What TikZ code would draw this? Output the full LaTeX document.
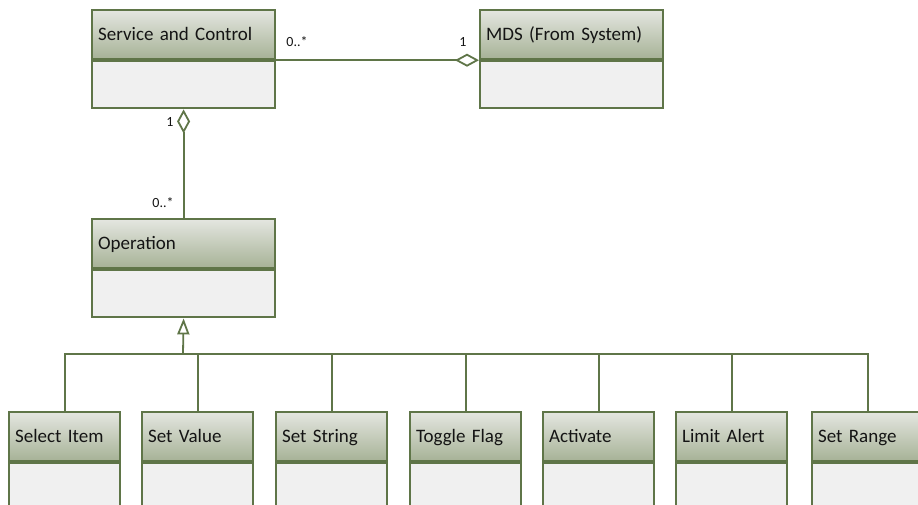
\documentclass[tikz,border=0pt]{standalone}
\usepackage{fontspec}
\setmainfont{Carlito}
\usetikzlibrary{arrows.meta,positioning}
\definecolor{umlgreen}{RGB}{95,117,72}
\definecolor{headtop}{RGB}{228,230,224}
\definecolor{headbottom}{RGB}{166,178,150}
\definecolor{bodygray}{RGB}{240,240,240}
\definecolor{textdark}{RGB}{20,20,20}

\begin{document}
\begin{tikzpicture}[x=1pt, y=-1pt,
  classhead/.style={draw=umlgreen, line width=2.2pt, top color=headtop, bottom color=headbottom,
    anchor=north west, minimum height=49pt, inner xsep=6pt, text width=#1, align=left,
    text height=14pt, text depth=3pt, font=\fontsize{19}{22}\selectfont, text=textdark},
  classbody/.style={draw=umlgreen, line width=2.2pt, fill=bodygray, minimum width=#1, minimum height=47pt},
  link/.style={draw=umlgreen, line width=1.8pt},
  mult/.style={font=\fontsize{14}{16}\selectfont, text=textdark, inner sep=0pt}
]
  \useasboundingbox (0,0) rectangle (918,504);
  \clip (0,0) rectangle (918,504);

  % upper classes
  \node[classhead=171pt] (svc) at (91,9) {Service and Control};
  \node[classbody=183pt, below=0pt of svc] (svc-b) {};
  \node[classhead=171pt] (mds) at (479,9) {MDS (From System)};
  \node[classbody=183pt, below=0pt of mds] (mds-b) {};
  \node[classhead=171pt] (op) at (91,218) {Operation};
  \node[classbody=183pt, below=0pt of op] (op-b) {};

  % operation kinds
  \foreach \name/\x/\txt in {sel/8/Select Item, val/141/Set Value, str/275/Set String,
      tog/409/Toggle Flag, act/542/Activate, lim/675/Limit Alert, rng/811/Set Range} {
    \node[classhead=99pt] (\name) at (\x,411) {\txt};
    \node[classbody=111pt, below=0pt of \name] (\name-b) {};
  }

  % associations
  \draw[link, -{Diamond[open, length=24pt, width=13pt]}] (svc.south east) -- (mds.south west);
  \draw[link, {Diamond[open, length=24pt, width=13pt]}-] (svc-b.south) -- (op.north);
  \node[mult] (svc-many) at (297,42) {0..*};
  \node[mult] (mds-one) at (463,42) {1};
  \node[mult] (svc-one) at (170,122) {1};
  \node[mult] (op-many) at (163,203) {0..*};

  % generalization
  \coordinate (bar) at (183,354);
  \draw[link, -{Triangle[open, length=16pt, width=12pt]}] (bar) -- (op-b.south);
  \draw[link] (sel.north) |- (rng.north |- bar) -- (rng.north);
  \foreach \name in {val,str,tog,act,lim}
    \draw[link] (\name.north) -- (\name.north |- bar);
\end{tikzpicture}
\end{document}
